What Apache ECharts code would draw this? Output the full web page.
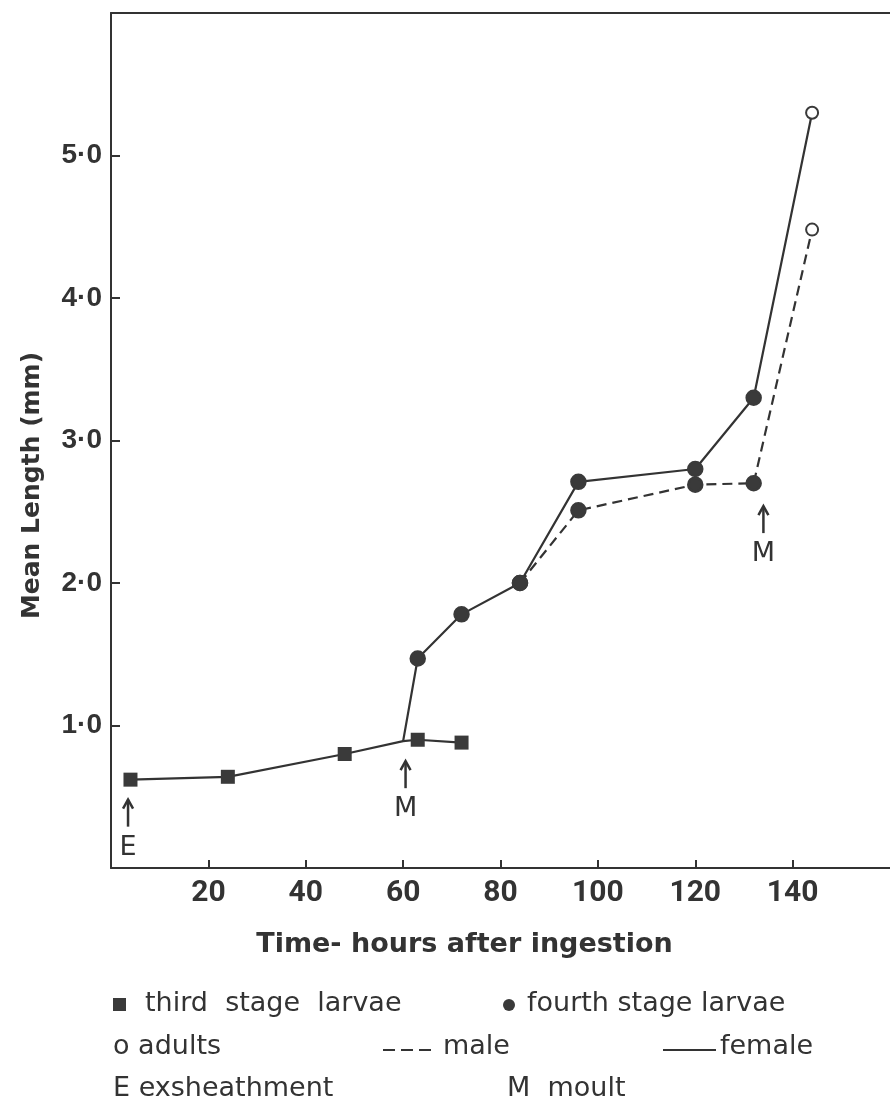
<!DOCTYPE html>
<html><head><meta charset="utf-8">
<script src="https://cdn.jsdelivr.net/npm/echarts@6/dist/echarts.min.js"></script>
<style>html,body{margin:0;padding:0;background:#fff}#c{width:890px;height:1110px}</style>
</head><body><div id="c"></div>
<script>
// ---- data ----
const thirdHours = [4, 24, 48, 63, 72];
const thirdLength = [0.62, 0.64, 0.80, 0.90, 0.88];
const moultJunction = [60, 0.89];           // third-stage moult point (no marker)
const fourthHours = [63, 72, 84, 96, 120, 132];
const femaleLength = [1.47, 1.78, 2.00, 2.71, 2.80, 3.30];
const maleHours = [84, 96, 120, 132];
const maleLength = [2.00, 2.51, 2.69, 2.70];
const adultHours = [144];
const adultFemale = [5.30];
const adultMale = [4.48];
const xTicks = [20, 40, 60, 80, 100, 120, 140];
const yTicks = [1, 2, 3, 4, 5];
const annotHours = [3.5, 60.5, 134];
const annotLength = [0.62, 0.89, 2.68];
const annotText = ['E', 'M', 'M'];

const INK = '#333333';
const MARK = '#3a3a3a';

// build series data
const thirdData = [];
thirdHours.forEach((h, i) => {
  if (h > moultJunction[0] && !thirdData.some(d => d.value && d.value[0] === moultJunction[0])) {
    thirdData.push({ value: moultJunction.slice(), symbol: 'none' });
  }
  thirdData.push({ value: [h, thirdLength[i]] });
});

const femaleData = [{ value: moultJunction.slice(), symbol: 'none' }];
fourthHours.forEach((h, i) => femaleData.push({ value: [h, femaleLength[i]] }));
adultHours.forEach((h, i) => femaleData.push({ value: [h, adultFemale[i]], symbol: 'emptyCircle', symbolSize: 12 }));

const maleData = [];
maleHours.forEach((h, i) => maleData.push({ value: [h, maleLength[i]] }));
adultHours.forEach((h, i) => maleData.push({ value: [h, adultMale[i]], symbol: 'emptyCircle', symbolSize: 12 }));

const chart = echarts.init(document.getElementById('c'), null, { renderer: 'canvas' });

const axisLineStyle = { color: INK, width: 2 };

chart.setOption({
  animation: false,
  backgroundColor: '#ffffff',
  grid: { left: 111, right: 0, top: 13, bottom: 242 },
  xAxis: [{
    type: 'value', min: 0, max: 160, interval: 20,
    axisLine: { show: true, onZero: false, lineStyle: axisLineStyle },
    axisTick: { show: true, inside: true, length: 8, customValues: xTicks, lineStyle: { color: INK, width: 2 } },
    axisLabel: {
      customValues: xTicks,
      formatter: v => String(v),
      fontFamily: 'Roboto, sans-serif', fontWeight: 'bold', fontSize: 30, color: INK, margin: 10
    },
    splitLine: { show: false },
    name: 'Time- hours after ingestion',
    nameLocation: 'middle', nameGap: 63,
    nameTextStyle: { fontFamily: 'DejaVu Sans', fontWeight: 'bold', fontSize: 27, color: INK, padding: [0, 72, 0, 0] }
  }, {
    type: 'value', min: 0, max: 160, position: 'top',
    axisLine: { show: true, onZero: false, lineStyle: axisLineStyle },
    axisTick: { show: false }, axisLabel: { show: false }, splitLine: { show: false }
  }],
  yAxis: {
    type: 'value', min: 0, max: 6, interval: 1,
    axisLine: { show: true, onZero: false, lineStyle: axisLineStyle },
    axisTick: { show: true, inside: true, length: 9, customValues: yTicks, lineStyle: { color: INK, width: 2 } },
    axisLabel: {
      customValues: yTicks,
      formatter: v => Number(v).toFixed(1).replace('.', '\u00B7'),
      fontFamily: 'Liberation Sans', fontWeight: 'bold', fontSize: 28, color: INK, margin: 9
    },
    splitLine: { show: false },
    name: 'Mean Length (mm)',
    nameLocation: 'middle', nameGap: 66,
    nameTextStyle: { fontFamily: 'DejaVu Sans', fontWeight: 'bold', fontSize: 25, color: INK, padding: [0, 90, 0, 0] }
  },
  series: [
    {
      name: 'third stage larvae', type: 'line', data: thirdData,
      symbol: 'rect', symbolSize: 14,
      itemStyle: { color: MARK },
      lineStyle: { color: INK, width: 2.2 }, z: 3
    },
    {
      name: 'female', type: 'line', data: femaleData,
      symbol: 'circle', symbolSize: 14,
      itemStyle: { color: MARK, borderColor: MARK, borderWidth: 2.5 },
      lineStyle: { color: INK, width: 2.2 }, z: 3
    },
    {
      name: 'male', type: 'line', data: maleData,
      symbol: 'circle', symbolSize: 14,
      itemStyle: { color: MARK, borderColor: MARK, borderWidth: 2.5 },
      lineStyle: { color: INK, width: 2.2, type: [10, 6] }, z: 2
    }
  ]
});

// annotations (E / M arrows), anchored to data coordinates
const g = [];
annotText.forEach((t, i) => {
  const p = chart.convertToPixel({ xAxisIndex: 0, yAxisIndex: 0 }, [annotHours[i], annotLength[i]]);
  const x = p[0], y = p[1];
  g.push({ type: 'line', shape: { x1: x, y1: y + 47, x2: x, y2: y + 20 }, style: { stroke: INK, lineWidth: 2.5 } });
  g.push({ type: 'polyline', shape: { points: [[x - 5, y + 29], [x, y + 20], [x + 5, y + 29]] }, style: { stroke: INK, lineWidth: 2.5, fill: null } });
  g.push({ type: 'text', x: x, y: y + 68, style: { text: t, fontFamily: 'DejaVu Sans', fontSize: 27, fill: INK, align: 'center', verticalAlign: 'middle' } });
});

// key below the chart
const LF = { fontFamily: 'DejaVu Sans', fontSize: 27, fill: INK, align: 'left', verticalAlign: 'middle' };
const r1 = 1004, r2 = 1047, r3 = 1089;
g.push({ type: 'rect', shape: { x: 113, y: r1 - 6, width: 13, height: 13 }, style: { fill: MARK } });
g.push({ type: 'text', x: 145, y: r1, style: Object.assign({ text: 'third  stage  larvae' }, LF) });
g.push({ type: 'circle', shape: { cx: 509, cy: r1 + 1, r: 6 }, style: { fill: MARK } });
g.push({ type: 'text', x: 527, y: r1, style: Object.assign({ text: 'fourth stage larvae' }, LF) });
g.push({ type: 'text', x: 113, y: r2, style: Object.assign({ text: 'o adults' }, LF) });
g.push({ type: 'line', shape: { x1: 383, y1: r2 + 3, x2: 437, y2: r2 + 3 }, style: { stroke: INK, lineWidth: 2.2, lineDash: [12, 6] } });
g.push({ type: 'text', x: 443, y: r2, style: Object.assign({ text: 'male' }, LF) });
g.push({ type: 'line', shape: { x1: 663, y1: r2 + 3, x2: 716, y2: r2 + 3 }, style: { stroke: INK, lineWidth: 2.2 } });
g.push({ type: 'text', x: 720, y: r2, style: Object.assign({ text: 'female' }, LF) });
g.push({ type: 'text', x: 113, y: r3, style: Object.assign({ text: 'E exsheathment' }, LF) });
g.push({ type: 'text', x: 507, y: r3, style: Object.assign({ text: 'M  moult' }, LF) });

chart.setOption({ graphic: { elements: g } });
</script>
</body></html>
